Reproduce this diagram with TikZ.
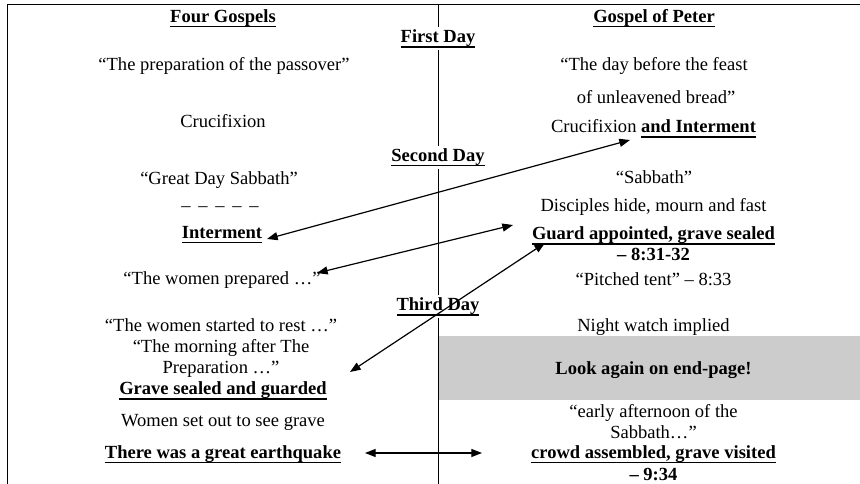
\documentclass[tikz,border=0pt]{standalone}
\usepackage{fontspec}
\setmainfont{Liberation Serif}
\usetikzlibrary{arrows.meta}
\newsavebox\ulbox
\newcommand\myul[1]{\sbox\ulbox{#1}\rlap{\rule[-3.4pt]{\wd\ulbox}{0.95pt}}\usebox\ulbox}
\tikzset{
  txt/.style={anchor=base, inner sep=0pt, font=\fontsize{13.9pt}{15.4pt}\selectfont},
  btxt/.style={txt, font=\fontsize{13.9pt}{15.4pt}\selectfont\bfseries},
  day/.style={btxt, fill=white, inner xsep=2pt, inner ysep=2.2pt},
  frame/.style={line width=0.65pt},
  arr/.style={line width=0.9pt, <->, >={Triangle[length=8pt,width=6pt]}},
}
\begin{document}
\begin{tikzpicture}[x=0.75pt, y=-0.75pt]
\useasboundingbox (0,0) rectangle (860,484);
% grey band
\fill[fill={rgb,255:red,204;green,204;blue,204}] (438.5,336) rectangle (860,400);
% frame and divider
\draw[frame] (7,484) -- (7,4.5) -- (860,4.5);
\draw[frame] (438,4.5) -- (438,484);
% day labels
\node[day] (d1) at (438,43) {\myul{First Day}};
\node[day] (d2) at (438,161.5) {\myul{Second Day}};
\node[day] (d3) at (438,311) {\myul{Third Day}};
% left column
\node[btxt] (l0) at (223,22.5) {\myul{Four Gospels}};
\node[txt] (l1) at (224,71) {“The preparation of the passover”};
\node[txt] (l2) at (223,128) {Crucifixion};
\node[txt] (l3) at (219,185) {“Great Day Sabbath”};
\node[txt] (l4) at (220,212) {–\hspace{0.42em}–\hspace{0.42em}–\hspace{0.42em}–\hspace{0.42em}–};
\node[btxt] (l5) at (222,238.5) {\myul{Interment}};
\node[txt] (l6) at (222,285) {“The women prepared …”};
\node[txt] (l7) at (221,331.5) {“The women started to rest …”};
\node[txt] (l8) at (221,352.3) {“The morning after The};
\node[txt] (l9) at (221,373.3) {Preparation …”};
\node[btxt] (l10) at (223,395) {\myul{Grave sealed and guarded}};
\node[txt] (l11) at (223,426.7) {Women set out to see grave};
\node[btxt] (l12) at (223,458.3) {\myul{There was a great earthquake}};
% right column
\node[btxt] (r0) at (654,22.5) {\myul{Gospel of Peter}};
\node[txt] (r1) at (654,71) {“The day before the feast};
\node[txt] (r2) at (656,103.3) {of unleavened bread”};
\node[txt] (r3) at (653.5,133) {Crucifixion \myul{\bfseries and Interment}};
\node[txt] (r4) at (654,183.3) {“Sabbath”};
\node[txt] (r5) at (653.5,211.7) {Disciples hide, mourn and fast};
\node[btxt] (r6) at (653.5,240) {\myul{Guard appointed, grave sealed}};
\node[btxt] (r7) at (653.5,260.7) {– 8:31-32};
\node[txt] (r8) at (653.5,285.7) {“Pitched tent” – 8:33};
\node[txt] (r9) at (653.5,331.7) {Night watch implied};
\node[btxt] (r10) at (653.5,374.3) {Look again on end-page!};
\node[txt] (r11) at (653.5,417.3) {“early afternoon of the};
\node[txt] (r12) at (653.5,438.3) {Sabbath…”};
\node[btxt] (r13) at (653.5,458.3) {\myul{crowd assembled, grave visited}};
\node[btxt] (r14) at (653.5,480.7) {– 9:34};
% arrow end points
\coordinate (a1L) at (267,239);
\coordinate (a1R) at (630,140);
\coordinate (a2L) at (317,273);
\coordinate (a2R) at (513,225);
\coordinate (a3L) at (350,372);
\coordinate (a3R) at (545,243);
\coordinate (a4L) at (365,453);
\coordinate (a4R) at (482,453);
\draw[arr] (a1L) -- (a1R);
\draw[arr] (a2L) -- (a2R);
\draw[arr] (a3L) -- (a3R);
\draw[arr] (a4L) -- (a4R);
\end{tikzpicture}
\end{document}
